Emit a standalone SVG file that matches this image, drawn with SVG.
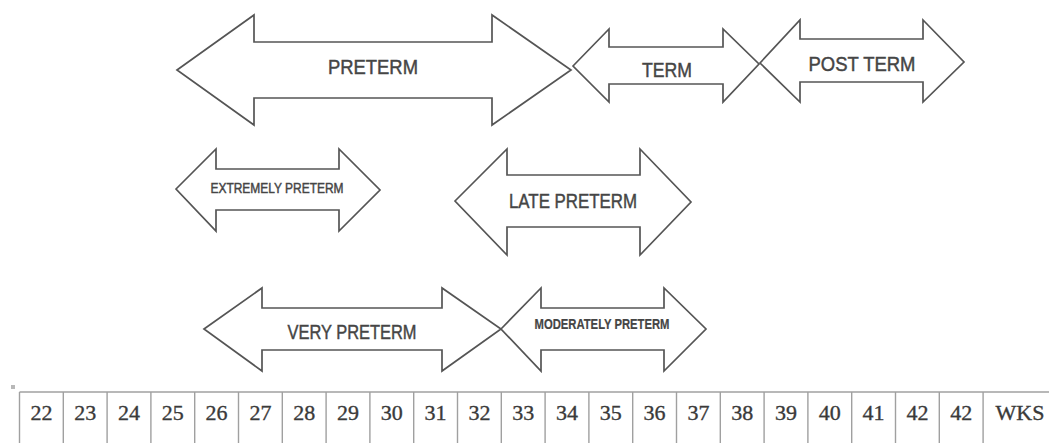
<svg xmlns="http://www.w3.org/2000/svg" width="1049" height="443" viewBox="0 0 1049 443">
<style>
.arr{fill:#fff;stroke:#555;stroke-width:1.7;stroke-linejoin:miter}
.lbl{font-family:"Liberation Sans",Arial,sans-serif;fill:#454545;stroke:#454545;stroke-width:0.45;text-anchor:middle}
.lb{font-weight:bold;stroke-width:0.2}
.grid{stroke:#a0a0a0;stroke-width:1.4;fill:none}
.num{font-family:"Liberation Serif","Times New Roman",serif;font-size:22px;fill:#3a3a3a;stroke:#3a3a3a;stroke-width:0.35;text-anchor:middle}
</style>
<rect width="1049" height="443" fill="#fff"/>
<g id="preterm">
<polygon class="arr" points="177,70 254,15 254,42 492,42 492,15 571,70 492,125 492,98 254,98 254,125"/>
<text class="lbl" x="373" y="74" font-size="20" textLength="90" lengthAdjust="spacingAndGlyphs">PRETERM</text>
</g>
<g id="term">
<polygon class="arr" points="573,66 609,29 609,47 723,47 723,29 759,64 723,102 723,84 609,84 609,102"/>
<text class="lbl" x="667" y="77" font-size="20" textLength="50" lengthAdjust="spacingAndGlyphs">TERM</text>
</g>
<g id="post-term">
<polygon class="arr" points="760,63 800,20 800,39 923,39 923,20 964,62 923,102 923,82 800,82 800,102"/>
<text class="lbl" x="862" y="71" font-size="20" textLength="107" lengthAdjust="spacingAndGlyphs">POST TERM</text>
</g>
<g id="extremely-preterm">
<polygon class="arr" points="176,189 216,149 216,169 339,169 339,149 380,190 339,231 339,210 216,210 216,231"/>
<text class="lbl" x="277" y="193" font-size="14" textLength="133" lengthAdjust="spacingAndGlyphs">EXTREMELY PRETERM</text>
</g>
<g id="late-preterm">
<polygon class="arr" points="455,201 507,149 507,175 640,175 640,149 691,202 640,255 640,227 507,227 507,255"/>
<text class="lbl" x="573" y="208" font-size="20" textLength="128" lengthAdjust="spacingAndGlyphs">LATE PRETERM</text>
</g>
<g id="very-preterm">
<polygon class="arr" points="204,329 262,288 262,308 442,308 442,288 501,329 442,371 442,350 262,350 262,371"/>
<text class="lbl" x="352" y="339" font-size="20" textLength="129" lengthAdjust="spacingAndGlyphs">VERY PRETERM</text>
</g>
<g id="moderately-preterm">
<polygon class="arr" points="501,329 541,288 541,308 664,308 664,288 706,329 664,371 664,350 541,350 541,371"/>
<text class="lbl lb" x="602" y="329" font-size="14" textLength="135" lengthAdjust="spacingAndGlyphs">MODERATELY PRETERM</text>
</g>
<g id="connectors"></g>
<g id="weeks-table">
<rect x="11" y="385" width="4" height="4" fill="#b8b8b8"/>
<line class="grid" x1="19.5" y1="392" x2="1049" y2="392"/>
<path class="grid" d="M19.5 392V443M63.3 392V443M107.1 392V443M150.9 392V443M194.7 392V443M238.5 392V443M282.3 392V443M326.1 392V443M369.9 392V443M413.7 392V443M457.5 392V443M501.3 392V443M545.1 392V443M588.9 392V443M632.7 392V443M676.5 392V443M720.3 392V443M764.1 392V443M807.9 392V443M851.7 392V443M895.5 392V443M939.3 392V443M983.1 392V443"/>
<text class="num" x="41.4" y="420">22</text>
<text class="num" x="85.2" y="420">23</text>
<text class="num" x="129" y="420">24</text>
<text class="num" x="172.8" y="420">25</text>
<text class="num" x="216.6" y="420">26</text>
<text class="num" x="260.4" y="420">27</text>
<text class="num" x="304.2" y="420">28</text>
<text class="num" x="348" y="420">29</text>
<text class="num" x="391.8" y="420">30</text>
<text class="num" x="435.6" y="420">31</text>
<text class="num" x="479.4" y="420">32</text>
<text class="num" x="523.2" y="420">33</text>
<text class="num" x="567" y="420">34</text>
<text class="num" x="610.8" y="420">35</text>
<text class="num" x="654.6" y="420">36</text>
<text class="num" x="698.4" y="420">37</text>
<text class="num" x="742.2" y="420">38</text>
<text class="num" x="786" y="420">39</text>
<text class="num" x="829.8" y="420">40</text>
<text class="num" x="873.6" y="420">41</text>
<text class="num" x="917.4" y="420">42</text>
<text class="num" x="961.2" y="420">42</text>
<text class="num" x="1020" y="420">WKS</text>
</g>
</svg>
